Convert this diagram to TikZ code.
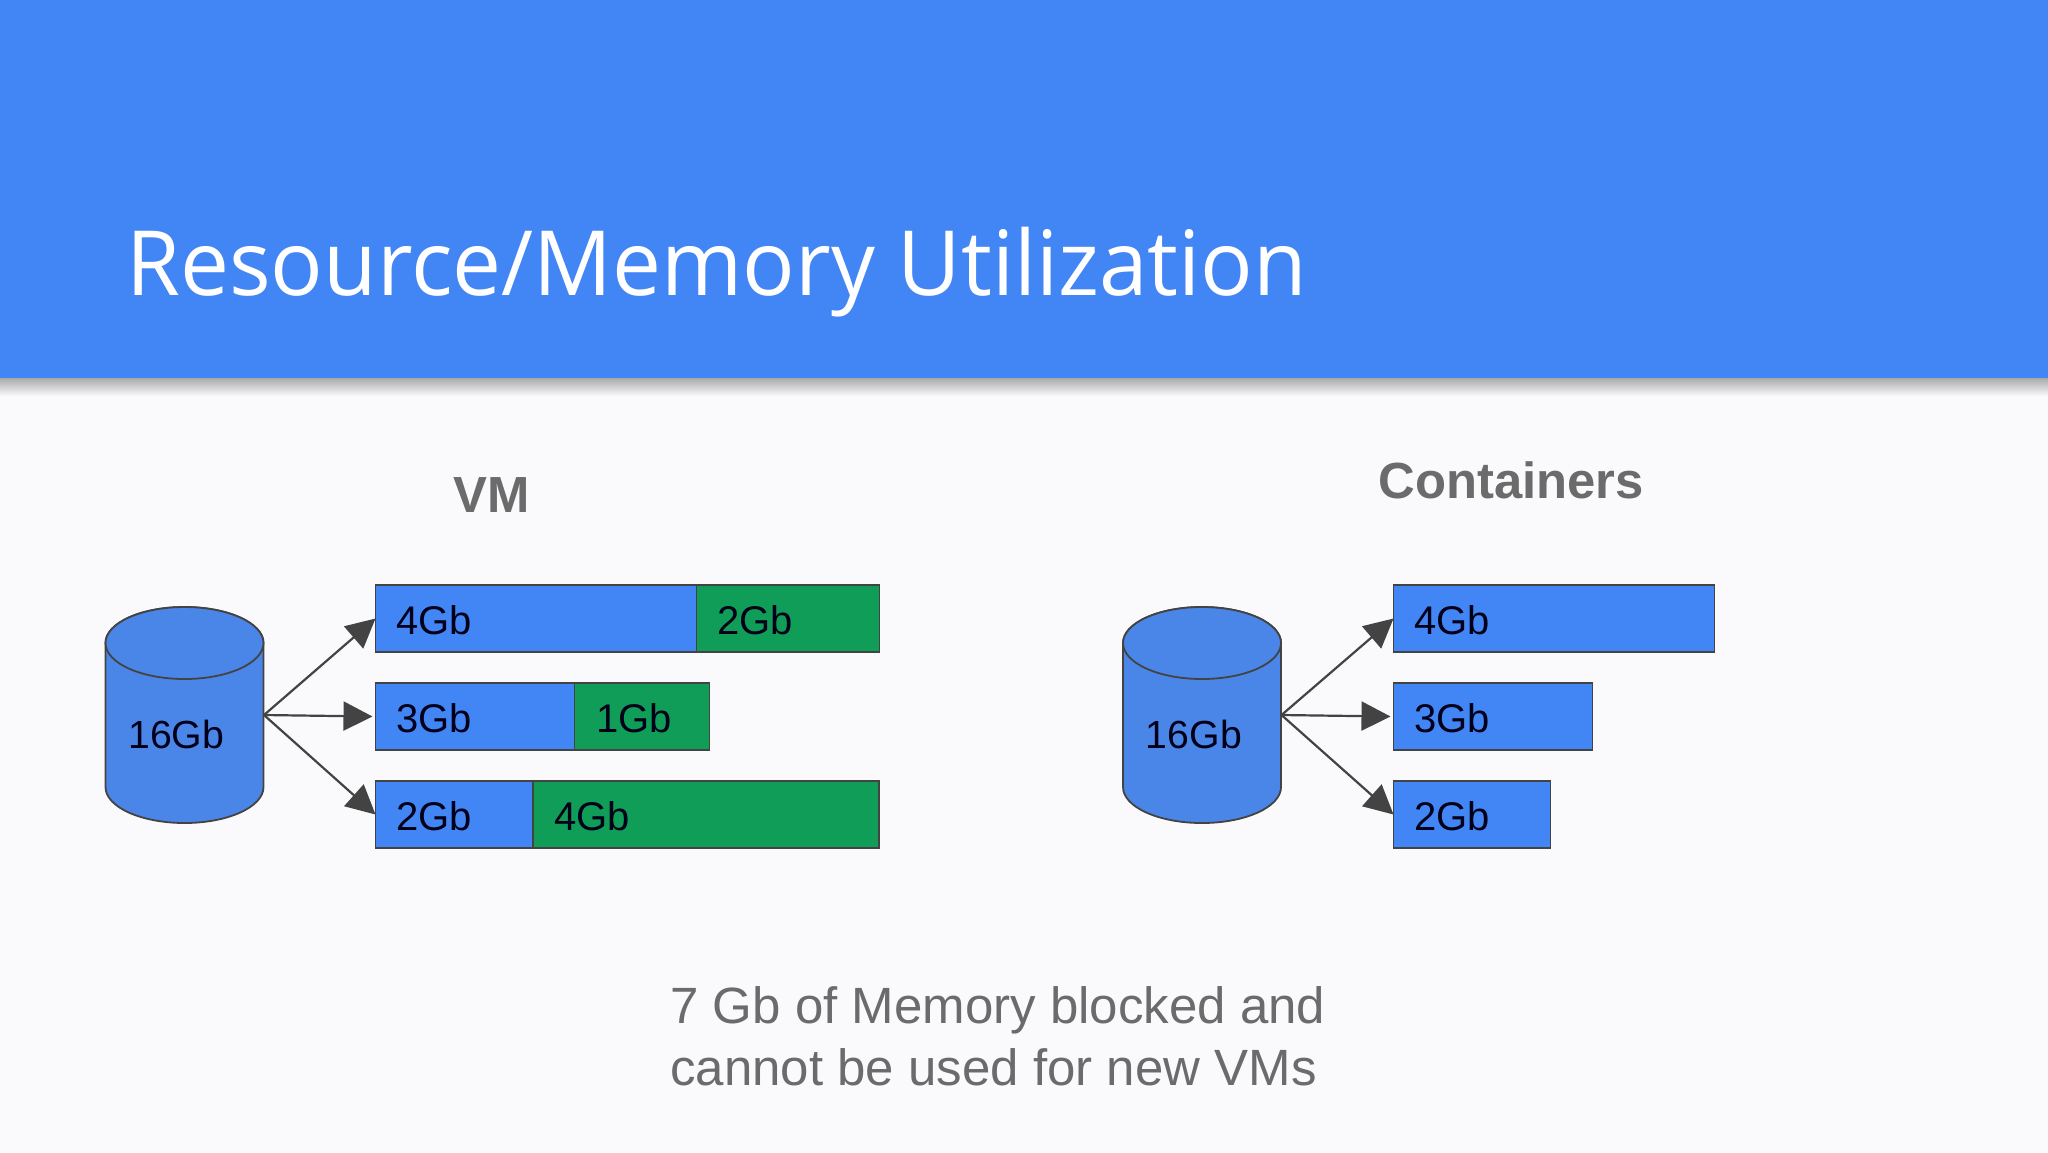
\documentclass[tikz,border=0pt]{standalone}
\usepackage{fontspec}
\setmainfont{Liberation Sans}
\newfontfamily\titlefont{Open Sans}
\usetikzlibrary{arrows.meta}
\definecolor{band}{HTML}{4285F4}
\definecolor{cyl}{HTML}{4A86E8}
\definecolor{grn}{HTML}{0F9D58}
\definecolor{edge}{HTML}{434343}
\definecolor{pagebg}{HTML}{FAF9FC}
\definecolor{greytext}{HTML}{6B6B6B}
\tikzset{
  px/.style={x=0.5pt,y=-0.5pt},
  bar/.style={draw=edge,line width=0.9pt,fill=band,anchor=west,minimum height=33.5pt,
    inner xsep=10.5pt,inner ysep=0pt,outer sep=0pt,text height=15.8pt,text depth=0pt,
    font=\fontsize{20}{24}\selectfont,text=black!90!blue},
  barg/.style={bar,fill=grn},
  link/.style={draw=edge,line width=1.1pt,-{Triangle[length=14.5pt,width=14.5pt,fill=edge]}},
  cyldraw/.style={draw=edge,line width=0.9pt,fill=cyl},
  lab/.style={anchor=base west,inner sep=0pt,font=\fontsize{19.6}{24}\selectfont,text=black!90!blue},
  head/.style={anchor=base west,inner sep=0pt,font=\fontsize{25.4}{30}\bfseries\selectfont,text=greytext},
}
\begin{document}
\begin{tikzpicture}[px]
\useasboundingbox (0,0) rectangle (2048,1152);
\fill[pagebg] (0,0) rectangle (2048,1152);
\shade[top color=black!35,bottom color=pagebg] (0,377) rectangle (2048,396);
\fill[band] (0,0) rectangle (2048,378);
\node[anchor=base west,inner sep=0pt,text=white] (title) at (126,295)
  {\scalebox{0.97}[1]{\titlefont\fontsize{45}{54}\selectfont Resource/Memory Utilization}};

\node[head] (vmh) at (453,512) {VM};
\node[head] (cth) at (1378,498) {Containers};

% left cylinder
\path[cyldraw] (105.5,643) arc[start angle=180,end angle=360,x radius=79,y radius=36]
  -- (263.5,787) arc[start angle=0,end angle=180,x radius=79,y radius=36] -- cycle;
\path[cyldraw] (184.5,643) ellipse[x radius=79,y radius=36];
\node[lab] (c1) at (128,748) {16Gb};
\coordinate (s1) at (264,715);

\node[bar,minimum width=160.5pt,text width=139.5pt,align=left] (a1) at (375.5,618.5) {4Gb};
\node[barg,minimum width=91.5pt,text width=70.5pt,align=left] (a2) at (696.5,618.5) {2Gb};
\node[bar,minimum width=99.5pt,text width=78.5pt,align=left] (b1) at (375.5,716.5) {3Gb};
\node[barg,minimum width=67.5pt,text width=46.5pt,align=left] (b2) at (574.5,716.5) {\hspace{0.5pt}1Gb};
\node[bar,minimum width=78.5pt,text width=57.5pt,align=left] (d1) at (375.5,814.5) {2Gb};
\node[barg,minimum width=173pt,text width=152pt,align=left] (d2) at (533,814.5) {4Gb};

\draw[link] (s1) -- (a1.west);
\draw[link] (s1) -- ([xshift=-1.5pt]b1.west);
\draw[link] (s1) -- (d1.west);

% right cylinder
\path[cyldraw] (1123,643) arc[start angle=180,end angle=360,x radius=79,y radius=36]
  -- (1281,787) arc[start angle=0,end angle=180,x radius=79,y radius=36] -- cycle;
\path[cyldraw] (1202,643) ellipse[x radius=79,y radius=36];
\node[lab] (c2) at (1145.5,748) {16Gb};
\coordinate (s2) at (1281.5,715);

\node[bar,minimum width=160.5pt,text width=139.5pt,align=left] (e1) at (1393.5,618.5) {4Gb};
\node[bar,minimum width=99.5pt,text width=78.5pt,align=left] (f1) at (1393.5,716.5) {3Gb};
\node[bar,minimum width=78.5pt,text width=57.5pt,align=left] (g1) at (1393.5,814.5) {2Gb};

\draw[link] (s2) -- (e1.west);
\draw[link] (s2) -- ([xshift=-1.5pt]f1.west);
\draw[link] (s2) -- (g1.west);

\node[anchor=base west,inner sep=0pt,text=greytext,align=left,font=\fontsize{25.5}{31}\selectfont] (note) at (670,1085.5)
  {7 Gb of Memory blocked and\\cannot be used for new VMs};
\end{tikzpicture}
\end{document}
